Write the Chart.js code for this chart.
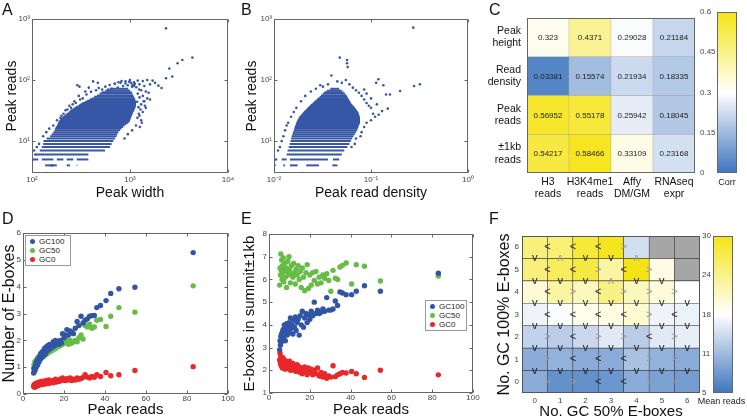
<!DOCTYPE html>
<html lang="en">
<head>
<meta charset="UTF-8">
<title>Peak reads, E-boxes and correlations</title>
<script src="https://cdn.jsdelivr.net/npm/chart.js"></script>
<style>
  body { margin: 0; background: #fff; font-family: 'Liberation Sans', Arial, sans-serif; }
  #wrap { position: relative; width: 747px; height: 418px; overflow: hidden; }
  canvas { position: absolute; }
  .tag { position: absolute; font-size: 16px; color: #111; line-height: 16px; }
  .cbt { position: absolute; font-size: 9px; color: #222; white-space: nowrap; text-align: center; }
  .legend { position: absolute; border: 1px solid #999; background: #fff; font-size: 8px; line-height: 9px; padding: 1px 4px 1px 4px; color: #222; z-index: 2; white-space: nowrap; }
  .legend .dot { display: inline-block; width: 5px; height: 5px; border-radius: 50%; margin-right: 4px; vertical-align: 0; }
</style>
</head>
<body>
<div id="wrap">
  <canvas id="cA" width="240" height="200" style="left:0;top:0"></canvas>
  <canvas id="cB" width="240" height="200" style="left:240px;top:0"></canvas>
  <canvas id="cC" width="217" height="200" style="left:480px;top:0"></canvas>
  <canvas id="cCbar" width="50" height="200" style="left:697px;top:0"></canvas>
  <canvas id="cD" width="240" height="218" style="left:0;top:200px"></canvas>
  <canvas id="cE" width="240" height="218" style="left:240px;top:200px"></canvas>
  <canvas id="cF" width="210" height="218" style="left:492px;top:200px"></canvas>
  <canvas id="cFbar" width="47" height="218" style="left:700px;top:200px"></canvas>
  <div class="tag" style="left:2px;top:2px">A</div>
  <div class="tag" style="left:241px;top:2px">B</div>
  <div class="tag" style="left:489px;top:2px">C</div>
  <div class="tag" style="left:2px;top:211px">D</div>
  <div class="tag" style="left:241px;top:211px">E</div>
  <div class="tag" style="left:489px;top:211px">F</div>
  <div class="cbt" style="left:707px;top:177px;width:40px">Corr</div>
  <div class="cbt" style="left:696px;top:396px;width:51px">Mean reads</div>
  <div class="legend" id="legD" style="left:25px;top:235px;padding-right:6px"></div>
  <div class="legend" id="legE" style="left:425px;top:300px;padding-right:2px"></div>
</div>
<script>
// ---- A: peak width vs peak reads (dense rows drawn as read-count bands) ----
const aBandReads = [4,4,4,4, 5,5,5,5,5, 6,7,8,9,10,11,12,13,14,15,16,17,18,19,20,21,22,23,24,25,26,27,28,29,30,31,32,33,34,35,36,37,38,39,40, 42,44,46,48,50,53,56,60,63,67,72];
const aBandWidthLo = [136,153,226,286, 107,126,179,226,286, 110,120,126,130,131,141,153,159,165,170,172,176,180,183,185,188,192,197,203,208,214,220,226,235,240,244,250,258,265,272,280,290,298,305,312, 325,347,365,385,405,430,460,490,513,560,620];
const aBandWidthHi = [165,179,244,290, 116,165,209,264,376, 376,556,625,650,676,703,730,742,760,790,820,850,880,920,960,990,1000,1010,1020,1030,1040,1050,1060,1070,1080,1090,1100,1110,1120,1130,1130,1140,1140,1150,1150, 1150,1150,1140,1130,1120,1100,1080,1060,1040,1000,960];
const aDotWidth = [2330,4330,3420,3060,2520,2700,2330,2100,1950,290,305, 1000,900,1100,1200,1350,1500,1700,1800,1600,1400,1250,800,700,850,950,1050,750,650,600,1300,1450,1550,1350,1500,1400,1600,1300,1450,1350,1250,1300,1150,1050,950,880, 420,380,350,470,300,270,240,220,200,180,165,150,140,130,118,112,105,108,104, 140,330, 1200,1250,1180,1220,1280,1230,1190,1320,1260,1380,1420,1240,1160,1100,1060,560,620,700,760,820,900,980,1020,1120,520,480,450,400,360,330,310,280,260,250,230,210,195];
const aDotReads = [703,233,213,188,154,114,107,74,81,82,78, 100,95,92,98,96,100,98,90,85,80,85,90,88,80,82,78,75,72,70,68,65,62,55,50,45,48,40,35,30,26,22,18,15,13,11, 95,75,65,90,55,45,38,32,26,22,18,16,14,12,9,8,7,6,5, 3,3, 60,52,44,36,33,28,24,20,17,45,38,70,76,80,84,78,83,86,92,96,88,94,90,86,70,74,68,64,58,50,48,42,40,35,33,28,24];

// ---- B: peak read density vs peak reads ----
const bBandReads = [4,4,4,4, 5,5,5, 6,7,8,9,10,11,12,13,14,15,16,17,18,19,20,21,22,23,24,25,26,27,28,29,30,31,32,33,34,35,36,37,38,39,40, 42,44,46,48,50,53,56,60,63,67,72];
const bBandDensLo = [0.0125,0.0146,0.0215,0.040, 0.0120,0.0146,0.0405, 0.0135,0.0138,0.0142,0.0145,0.0148,0.0150,0.0152,0.0155,0.0157,0.0160,0.0162,0.0164,0.0166,0.0168,0.0170,0.0172,0.0175,0.0178,0.0181,0.0184,0.0188,0.0192,0.0196,0.0200,0.0204,0.0208,0.0212,0.0216,0.0220,0.0224,0.0228,0.0232,0.0236,0.0240,0.0245, 0.0252,0.0260,0.0268,0.0276,0.0284,0.0295,0.0305,0.0318,0.033,0.035,0.038];
const bBandDensHi = [0.0130,0.0175,0.0290,0.045, 0.0135,0.0360,0.0470, 0.050,0.053,0.057,0.060,0.062,0.064,0.066,0.068,0.070,0.072,0.073,0.074,0.075,0.076,0.077,0.077,0.077,0.077,0.077,0.076,0.076,0.075,0.075,0.074,0.073,0.072,0.071,0.070,0.069,0.068,0.067,0.066,0.065,0.064,0.063, 0.062,0.061,0.060,0.059,0.058,0.057,0.056,0.054,0.052,0.050,0.047];
const bDotDens = [0.273,0.0476,0.0566,0.0566,0.0575,0.319,0.278,0.1995,0.157,0.143,0.119,0.113,0.134,0.149,0.130,0.039,0.030, 0.0101,0.0195,0.0101,0.0105,0.011,0.0115,0.012,0.0125,0.013,0.0135,0.014,0.015,0.016,0.017,0.019,0.021,0.024,0.027,0.032,0.036,0.045,0.05,0.055,0.06,0.065,0.07,0.075,0.08,0.085,0.09,0.095,0.1,0.105,0.11,0.1,0.09,0.085,0.08,0.078,0.07,0.068,0.063,0.12,0.115,0.1,0.09,0.085];
const bDotReads = [722,233,213,188,163,85,80,66,58,58,103,90,82,34,31,119,82, 3,3,4,5,7,8,10,12,15,18,20,25,30,35,45,55,65,72,78,85,95,90,100,85,75,68,62,55,48,42,38,35,28,25,22,20,17,14,12,11,9,8,27,40,50,60,70];

// ---- C: correlation table ----
const corrColumns = [['H3','reads'], ['H3K4me1','reads'], ['Affy','DM/GM'], ['RNAseq','expr']];
const corrRowNames = [['Peak','height'], ['Read','density'], ['Peak','reads'], ['\u00b11kb','reads']];
const corrPeakHeight = [0.323, 0.4371, 0.29028, 0.21184];
const corrReadDensity = [0.03381, 0.15574, 0.21934, 0.18335];
const corrPeakReads = [0.56952, 0.55178, 0.25942, 0.18045];
const corrKbReads = [0.54217, 0.58466, 0.33109, 0.23168];
const corrTicks = [0, 0.15, 0.3, 0.45, 0.6];
const corrTickLabels = ['0', '0.15', '0.3', '0.45', '0.6'];

// ---- D / E: binned peak reads, shared by all series ----
const peakReadBins = [5.2,5.4,5.6,5.8,6.0,6.2,6.4,6.6,6.8,7.0,7.2,7.5,7.8,8.0,8.3,8.6,8.9,9.2,9.5,9.8,10.1,10.5,10.9,11.3,11.7,12.1,12.5,12.9,13.3,13.8,14.3,14.8,15.3,15.8,16.3,16.9,17.5,18.1,18.7,19.3,20.0,20.7,21.4,22.2,23.0,23.8,24.6,25.5,26.4,27.3,28.3,29.3,30.3,31.4,32.5,33.6,34.8,36.0,37.8,40.5,42.8,46.8,54.6,83.0];
const seriesNames = ['GC100', 'GC50', 'GC0'];
const dGC100 = [0.78,0.95,0.85,1.0,0.9,1.1,1.0,1.2,1.05,1.25,1.1,1.3,1.2,1.4,1.3,1.5,1.35,1.55,1.4,1.6,1.45,1.7,1.5,1.75,1.6,1.8,1.65,1.85,1.7,1.8,1.75,1.95,1.8,2.0,1.85,1.95,1.85,2.0,1.9,2.25,2.1,2.2,2.4,2.2,2.35,2.3,2.25,2.45,2.7,2.55,2.9,2.65,2.75,2.8,2.9,2.92,2.93,3.22,3.3,3.48,3.75,3.92,3.98,5.27];
const dGC50 = [0.95,1.1,1.0,1.2,1.05,1.15,1.25,1.1,1.3,1.15,1.35,1.2,1.3,1.25,1.4,1.3,1.45,1.35,1.4,1.5,1.4,1.5,1.45,1.55,1.5,1.6,1.55,1.6,1.65,1.6,1.7,1.65,1.75,1.7,1.8,1.75,1.85,1.8,1.9,1.85,2.0,1.9,2.05,1.85,2.0,1.9,1.95,2.0,1.95,2.1,2.2,2.05,2.55,2.5,2.6,2.45,2.5,2.75,2.78,2.52,2.9,3.22,3.05,4.03];
const dGC0 = [0.28,0.35,0.25,0.32,0.38,0.27,0.33,0.4,0.3,0.36,0.42,0.32,0.38,0.45,0.35,0.42,0.37,0.48,0.4,0.35,0.45,0.4,0.5,0.38,0.46,0.42,0.52,0.4,0.47,0.44,0.5,0.42,0.48,0.55,0.45,0.5,0.47,0.55,0.5,0.6,0.52,0.5,0.57,0.52,0.6,0.5,0.55,0.52,0.6,0.55,0.58,0.62,0.72,0.63,0.6,0.65,0.62,0.72,0.65,0.8,0.68,0.72,0.88,1.02];
const eGC100 = [2.9,3.3,3.1,3.5,3.25,3.6,3.4,3.7,3.35,3.8,3.5,4.0,3.6,3.3,3.75,4.05,3.55,3.9,3.7,4.1,3.65,4.3,3.85,4.0,3.6,4.2,3.9,4.35,3.75,4.1,4.25,3.55,4.4,4.0,4.6,3.9,4.3,4.5,4.1,4.45,4.25,4.6,4.4,5.0,4.5,4.65,4.5,4.55,4.7,4.6,5.2,4.65,4.65,4.7,5.05,4.85,5.45,5.4,5.33,5.33,5.48,5.72,5.48,6.27];
const eGC50 = [5.75,6.5,6.2,7.12,6.4,6.85,6.0,6.6,6.3,6.95,5.9,6.4,6.7,6.1,6.5,5.65,6.35,6.8,6.2,7.0,6.45,5.85,6.6,6.25,6.1,6.7,6.3,5.8,6.45,6.2,6.6,6.0,6.35,5.65,6.5,6.1,5.5,6.3,6.65,5.6,6.2,5.75,6.3,5.95,6.35,5.8,6.1,5.85,6.2,6.05,6.25,5.95,5.48,6.4,6.05,6.0,6.55,6.62,6.72,5.8,6.65,6.58,5.93,6.15];
const eGC0 = [2.45,2.75,2.3,2.6,2.2,2.5,2.35,2.1,2.55,2.3,2.15,2.45,2.25,2.05,2.4,2.2,2.35,2.1,2.3,2.15,2.4,2.0,2.25,2.1,2.3,2.0,2.2,2.1,1.95,2.25,2.05,2.15,1.9,2.1,1.85,2.05,2.15,1.95,1.8,2.1,1.9,2.05,1.8,2.0,1.85,2.1,1.75,1.9,1.7,1.85,1.65,1.75,1.7,2.2,1.72,1.8,1.85,1.9,1.88,1.95,1.85,1.68,2.0,1.8];

// ---- F: mean reads by E-box counts (rows = GC100 count 0..6, columns = GC50 count 0..6) ----
const gc50Counts = ['0','1','2','3','4','5','6'];
const gc100Counts = ['0','1','2','3','4','5','6'];
const meanReads = [
  [10, 7.5, 7.5, 8, 10, 9, 8.5],
  [10, 10.5, 10, 10, 12, 10.5, 10],
  [13.5, 13, 14, 15.5, 13, 15.5, 16],
  [16.5, 17.2, 18.5, 19, 20, 16.5, 16.3],
  [19.8, 22.5, 21, 24, 21, 19.5, 17.5],
  [24.5, 26, 27.5, 22.5, 30, 19, null],
  [24.5, 25, 28, 29.5, 14.5, null, null]
];
// arrows between neighbouring columns, one string per row (bottom to top)
const rowArrows = ['>><<>>', '><<<>>', '><>><>', '<<<<><', '<><>>>', '<<><> ', '<<<>  '];
// arrows between neighbouring rows, one string per boundary (bottom to top)
const colArrows = ['vvvvvvv', 'vvvvvvv', 'vvvvvvv', 'vvvvvvv', 'vvv^vv ', 'v^vv^  '];
const meanTicks = [5, 11.25, 17.5, 23.75, 30];
const meanTickLabels = ['5', '11', '18', '24', '30'];

const CLOUD = '#3757a6', BLUE = '#3155a6', GREEN = '#66bc45', RED = '#e8282b';
const seriesColors = [BLUE, GREEN, RED];
const FONT = "'Liberation Sans', Arial, sans-serif";

Chart.defaults.font.family = FONT;
Chart.defaults.color = '#333';
Chart.defaults.animation = false;
Chart.defaults.events = [];
Chart.defaults.responsive = false;
Chart.defaults.plugins.legend.display = false;
Chart.defaults.plugins.tooltip.enabled = false;

// blue -> white -> yellow colour map, t in [0,1]
const CM = [[62,117,190], [255,255,255], [245,228,20]];
function cmap(t) {
  t = Math.max(0, Math.min(1, t));
  const a = t < 0.5 ? CM[0] : CM[1], b = t < 0.5 ? CM[1] : CM[2], s = t < 0.5 ? t / 0.5 : (t - 0.5) / 0.5;
  return 'rgb(' + a.map((v, i) => Math.round(v + (b[i] - v) * s)).join(',') + ')';
}

// box around the plot area plus inward tick marks
Chart.register({
  id: 'frame',
  afterDraw(chart, args, o) {
    if (!o || !o.color) return;
    const a = chart.chartArea, ctx = chart.ctx;
    const L = Math.round(a.left) + 0.5, T = Math.round(a.top) + 0.5, R = Math.round(a.right) - 0.5, B = Math.round(a.bottom) - 0.5;
    ctx.save();
    ctx.strokeStyle = o.color;
    ctx.lineWidth = 1;
    ctx.strokeRect(L, T, R - L, B - T);
    if (o.ticks) {
      const x = chart.scales.x, y = chart.scales.y;
      ctx.beginPath();
      x.ticks.forEach(t => {
        const p = Math.round(x.getPixelForValue(t.value)) + 0.5;
        ctx.moveTo(p, B); ctx.lineTo(p, B - 3); ctx.moveTo(p, T); ctx.lineTo(p, T + 3);
      });
      y.ticks.forEach(t => {
        const p = Math.round(y.getPixelForValue(t.value)) + 0.5;
        ctx.moveTo(L, p); ctx.lineTo(L + 3, p); ctx.moveTo(R, p); ctx.lineTo(R - 3, p);
      });
      ctx.stroke();
    }
    ctx.restore();
  }
});

const SUP = { '-': '\u207b', '0': '\u2070', '1': '\u00b9', '2': '\u00b2', '3': '\u00b3', '4': '\u2074' };
const powLabel = v => '10' + String(Math.round(Math.log10(v))).split('').map(c => SUP[c]).join('');
const NOGRID = { display: false, drawTicks: false };

// x titles are offset from the bottom edge, y titles from the left edge
function axisTitle(text, pad, size, horiz, lh) {
  return { display: true, text, color: '#111', font: { size: size, lineHeight: lh || 1 },
           padding: horiz ? { top: 0, bottom: pad } : { top: pad, bottom: 0 } };
}
function fitTo(size, horiz) {
  return s => { if (horiz) s.height = size; else s.width = size; };
}
function logAxis(min, max, tickVals, title, pad, size, horiz) {
  return {
    type: 'logarithmic', min, max,
    afterBuildTicks: s => { s.ticks = tickVals.map(v => ({ value: v })); },
    ticks: { callback: v => powLabel(v), font: { size: 8 }, color: '#444', padding: 2, autoSkip: false, maxRotation: 0 },
    grid: NOGRID, border: { display: false },
    title: axisTitle(title, pad, 14, horiz),
    afterFit: fitTo(size, horiz)
  };
}
function linAxis(min, max, step, title, pad, size, horiz, fsize, tickPad) {
  return {
    type: 'linear', min, max,
    ticks: { stepSize: step, font: { size: 8 }, color: '#444', padding: tickPad || 0, maxRotation: 0 },
    grid: NOGRID, border: { display: false },
    title: axisTitle(title, pad, fsize || 15, horiz),
    afterFit: fitTo(size, horiz)
  };
}
function bands(reads, lo, hi, color) {
  return reads.map((r, i) => ({
    data: [{ x: lo[i], y: r }, { x: hi[i], y: r }],
    showLine: true, borderColor: color, borderWidth: 2, pointRadius: 0
  }));
}
function dots(xs, ys, color, radius) {
  return { data: xs.map((x, i) => ({ x, y: ys[i] })), backgroundColor: color, borderWidth: 0, pointRadius: radius };
}

// A
new Chart(document.getElementById('cA'), {
  type: 'scatter',
  data: { datasets: [...bands(aBandReads, aBandWidthLo, aBandWidthHi, CLOUD), dots(aDotWidth, aDotReads, CLOUD, 1.3)] },
  options: {
    layout: { padding: { top: 19, right: 12 } },
    scales: {
      x: logAxis(100, 10000, [100, 1000, 10000], 'Peak width', 0, 27, true),
      y: logAxis(3, 1000, [10, 100, 1000], 'Peak reads', 5, 32, false)
    },
    plugins: { frame: { color: '#666', ticks: true } }
  }
});

// B
new Chart(document.getElementById('cB'), {
  type: 'scatter',
  data: { datasets: [...bands(bBandReads, bBandDensLo, bBandDensHi, CLOUD), dots(bDotDens, bDotReads, CLOUD, 1.3)] },
  options: {
    layout: { padding: { top: 19, right: 12 } },
    scales: {
      x: logAxis(0.01, 1, [0.01, 0.1, 1], 'Peak read density', 0, 27, true),
      y: logAxis(3, 1000, [10, 100, 1000], 'Peak reads', 5, 34, false)
    },
    plugins: { frame: { color: '#666', ticks: true } }
  }
});

// heat map helpers
const cellText = {
  id: 'cellText',
  afterDatasetsDraw(chart) {
    const ctx = chart.ctx;
    ctx.save();
    ctx.font = '8px ' + FONT;
    ctx.fillStyle = '#222';
    ctx.textAlign = 'center';
    ctx.textBaseline = 'middle';
    chart.data.datasets.forEach((ds, di) => {
      chart.getDatasetMeta(di).data.forEach((el, i) => {
        const p = el.getProps(['x', 'y', 'base'], true);
        ctx.fillText(String(ds.values[i]), p.x, (p.y + p.base) / 2 + 0.5);
      });
    });
    ctx.restore();
  }
};

function heatRows(rows, colorOf, border, bw) {
  return rows.map(row => ({
    data: row.map(() => 1), values: row,
    backgroundColor: row.map(colorOf),
    borderColor: border, borderWidth: bw, borderSkipped: false,
    barPercentage: 1, categoryPercentage: 1
  }));
}

// C
const corrRows = [corrKbReads, corrPeakReads, corrReadDensity, corrPeakHeight]; // bottom to top
const corrRowLabels = corrRowNames.slice().reverse();
new Chart(document.getElementById('cC'), {
  type: 'bar',
  data: { labels: corrColumns, datasets: heatRows(corrRows, v => cmap(v / 0.6), '#9a9a9a', 0.5) },
  options: {
    layout: { padding: { top: 12, right: 2 } },
    scales: {
      x: { stacked: true, grid: NOGRID, border: { display: false },
           ticks: { font: { size: 10.5, lineHeight: 1.15 }, color: '#111', padding: 3, maxRotation: 0, autoSkip: false },
           afterFit: fitTo(27, true) },
      y: { stacked: true, min: 0, max: 4, grid: NOGRID, border: { display: false },
           afterBuildTicks: s => { s.ticks = [0.5, 1.5, 2.5, 3.5].map(v => ({ value: v })); },
           ticks: { callback: (v, i) => corrRowLabels[i], font: { size: 10.5, lineHeight: 1.15 }, color: '#111', padding: 6 },
           afterFit: fitTo(47, false) }
    },
    plugins: { frame: { color: '#666' } }
  },
  plugins: [cellText]
});

function colorbar(id, min, max, tickVals, tickLabels, o) {
  new Chart(document.getElementById(id), {
    type: 'bar',
    data: { labels: [''], datasets: [{
      data: [[min, max]], barPercentage: 1, categoryPercentage: 1,
      backgroundColor: c => {
        const a = c.chart.chartArea;
        if (!a) return '#fff';
        const g = c.chart.ctx.createLinearGradient(0, a.bottom, 0, a.top);
        [0, 0.25, 0.5, 0.75, 1].forEach(t => g.addColorStop(t, cmap(t)));
        return g;
      }
    }] },
    options: {
      layout: { padding: { left: o.left, right: o.right, top: o.top } },
      scales: {
        x: { grid: NOGRID, border: { display: false }, ticks: { display: false }, afterFit: fitTo(o.xh, true) },
        y: { min, max, grid: NOGRID, border: { display: false },
             afterBuildTicks: s => { s.ticks = tickVals.map(v => ({ value: v })); },
             ticks: { callback: (v, i) => tickLabels[i], crossAlign: 'far', padding: 0, font: { size: 8 }, color: '#444' },
             afterFit: fitTo(o.yw, false) }
      },
      plugins: { frame: { color: '#666' } }
    }
  });
}
colorbar('cCbar', 0, 0.6, corrTicks, corrTickLabels, { left: 3, right: 10, top: 12, xh: 27, yw: 17 });

// D
new Chart(document.getElementById('cD'), {
  type: 'scatter',
  data: { datasets: [dots(peakReadBins, dGC100, BLUE, 2.7), dots(peakReadBins, dGC50, GREEN, 2.7), dots(peakReadBins, dGC0, RED, 2.7)] },
  options: {
    layout: { padding: { top: 33, right: 12 } },
    scales: {
      x: linAxis(0, 100, 20, 'Peak reads', 0.5, 24, true, 15, 0),
      y: linAxis(0, 6, 1, 'Number of E-boxes', 1.5, 23, false, 16, 2)
    },
    plugins: { frame: { color: '#666', ticks: true } }
  }
});

// E
new Chart(document.getElementById('cE'), {
  type: 'scatter',
  data: { datasets: [dots(peakReadBins, eGC100, BLUE, 2.7), dots(peakReadBins, eGC50, GREEN, 2.7), dots(peakReadBins, eGC0, RED, 2.7)] },
  options: {
    layout: { padding: { top: 34, right: 7 } },
    scales: {
      x: linAxis(0, 100, 20, 'Peak reads', 1, 25, true, 15, 0),
      y: linAxis(1, 8, 1, 'E-boxes in summit\u00b11kb', 2.5, 29, false, 15, 2)
    },
    plugins: { frame: { color: '#666', ticks: true } }
  }
});

['legD', 'legE'].forEach(id => {
  document.getElementById(id).innerHTML = seriesNames.map((n, i) =>
    '<div><span class="dot" style="background:' + seriesColors[i] + '"></span>' + n + '</div>').join('');
});

// F
const arrows = {
  id: 'arrows',
  afterDatasetsDraw(chart) {
    const ctx = chart.ctx, x = chart.scales.x, y = chart.scales.y;
    ctx.save();
    ctx.font = '11px ' + FONT;
    ctx.textAlign = 'center';
    ctx.textBaseline = 'middle';
    const draw = (ch, px, py) => {
      ctx.fillStyle = (ch === '<' || ch === 'v') ? '#1e1e1e' : '#9a9a9a';
      ctx.save();
      ctx.translate(px, py);
      if (ch === '^') ctx.rotate(Math.PI);
      ctx.fillText(ch === '^' ? 'v' : ch, 0, 0);
      ctx.restore();
    };
    rowArrows.forEach((s, r) => [...s].forEach((ch, b) => {
      if (ch !== ' ') draw(ch, (x.getPixelForValue(b) + x.getPixelForValue(b + 1)) / 2, y.getPixelForValue(r + 0.5));
    }));
    colArrows.forEach((s, k) => [...s].forEach((ch, c) => {
      if (ch !== ' ') draw(ch, x.getPixelForValue(c), y.getPixelForValue(k + 1));
    }));
    ctx.restore();
  }
};
new Chart(document.getElementById('cF'), {
  type: 'bar',
  data: { labels: gc50Counts, datasets: heatRows(meanReads, v => v == null ? '#a6a6a6' : cmap((v - 5) / 25), '#3c3c3c', 0.6) },
  options: {
    layout: { padding: { top: 36, right: 2 } },
    scales: {
      x: { stacked: true, grid: NOGRID, border: { display: false },
           ticks: { font: { size: 8 }, color: '#444', padding: 3, maxRotation: 0 },
           title: axisTitle('No. GC 50% E-boxes', 0, 15, true, 0.8), afterFit: fitTo(25, true) },
      y: { stacked: true, min: 0, max: 7, grid: NOGRID, border: { display: false },
           afterBuildTicks: s => { s.ticks = gc100Counts.map((c, i) => ({ value: i + 0.5 })); },
           ticks: { callback: (v, i) => gc100Counts[i], font: { size: 8 }, color: '#444', padding: 3 },
           title: axisTitle('No. GC 100% E-boxes', 5, 16, false), afterFit: fitTo(30, false) }
    },
    plugins: { frame: { color: '#555' } }
  },
  plugins: [arrows]
});
colorbar('cFbar', 5, 30, meanTicks, meanTickLabels, { left: 2, right: 14, top: 36, xh: 25, yw: 11 });
</script>
</body>
</html>
